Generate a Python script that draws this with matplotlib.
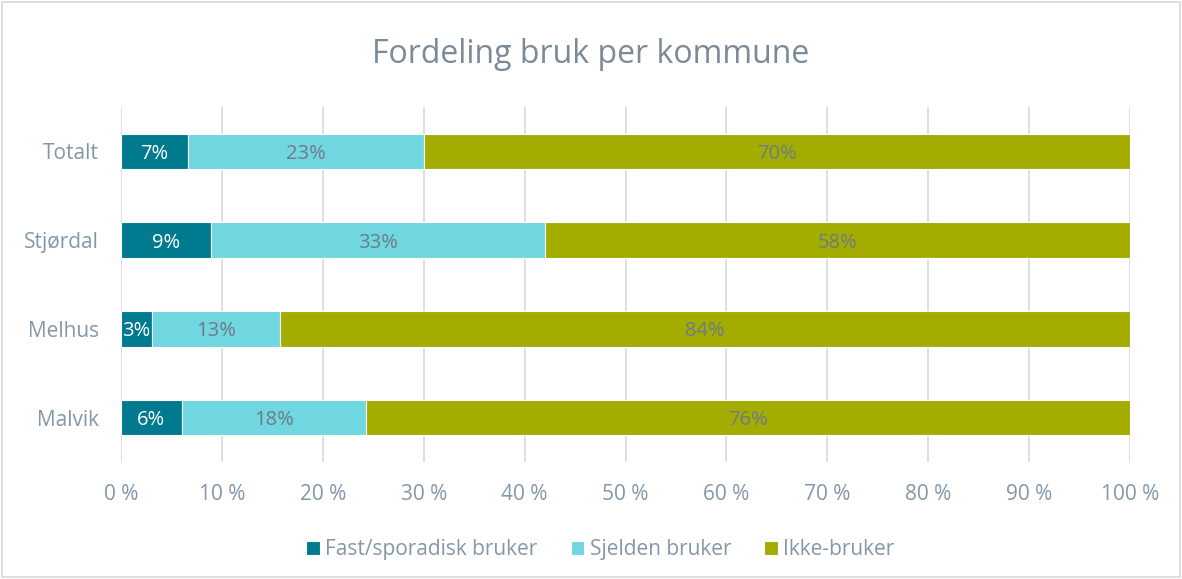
import matplotlib
matplotlib.use("Agg")
import matplotlib.pyplot as plt
from matplotlib.patches import Rectangle

# categories top -> bottom as shown in the chart
kommuner = ["Totalt", "Stjørdal", "Melhus", "Malvik"]
fast     = [6.6, 8.9, 3.1, 6.0]
sjelden  = [23.4, 33.1, 12.7, 18.3]
ikke     = [70.0, 58.0, 84.2, 75.7]
serier   = ["Fast/sporadisk bruker", "Sjelden bruker", "Ikke-bruker"]
xticks   = [0, 10, 20, 30, 40, 50, 60, 70, 80, 90, 100]

farger     = ["#007A8E", "#70D6E0", "#A3AD00"]
tekstfarge = ["white", "#6E7B87", "#6E7B87"]
grey       = "#8497A8"

plt.rcParams["font.family"] = ["Open Sans", "DejaVu Sans"]

fig = plt.figure(figsize=(11.82, 5.79), dpi=100)
ax = fig.add_axes([0.1024, 0.202, 0.8536, 0.613])

y = list(range(len(kommuner)))[::-1]     # Totalt at the top
left = [0.0] * len(kommuner)
for verdier, navn, farge, tf in zip([fast, sjelden, ikke], serier, farger, tekstfarge):
    ax.barh(y, verdier, left=left, height=0.4, color=farge,
            edgecolor="white", linewidth=0.8, label=navn, zorder=3)
    for yi, l, v in zip(y, left, verdier):
        ax.text(l + v / 2, yi, f"{round(v)}%", ha="center", va="center_baseline",
                color=tf, fontsize=14.5, zorder=4)
    left = [a + b for a, b in zip(left, verdier)]

ax.set_xlim(0, 100)
ax.set_ylim(-0.5, 3.5)
ax.set_xticks(xticks)
ax.set_xticklabels([f"{t} %" for t in xticks])
ax.set_yticks(y)
ax.set_yticklabels(kommuner)
ax.tick_params(axis="both", length=0, colors=grey, labelsize=15)
ax.tick_params(axis="x", pad=16)
ax.tick_params(axis="y", pad=16)
ax.xaxis.grid(True, color="#D9DDE2", linewidth=1.3, zorder=0)
for s in ax.spines.values():
    s.set_visible(False)

fig.suptitle("Fordeling bruk per kommune", y=0.935, fontsize=23, color="#7A8A99")

leg = fig.legend(loc="lower center", bbox_to_anchor=(0.508, 0.0), ncol=3,
                 frameon=False, fontsize=15, handlelength=0.65, handleheight=0.65,
                 handletextpad=0.25, columnspacing=1.6)
for t in leg.get_texts():
    t.set_color(grey)

# thin grey frame around the whole chart
fig.patches.append(Rectangle((0.002, 0.003), 0.996, 0.994, transform=fig.transFigure,
                             fill=False, edgecolor="#D9D9D9", linewidth=1.2))

fig.savefig("out.png", dpi=100)
